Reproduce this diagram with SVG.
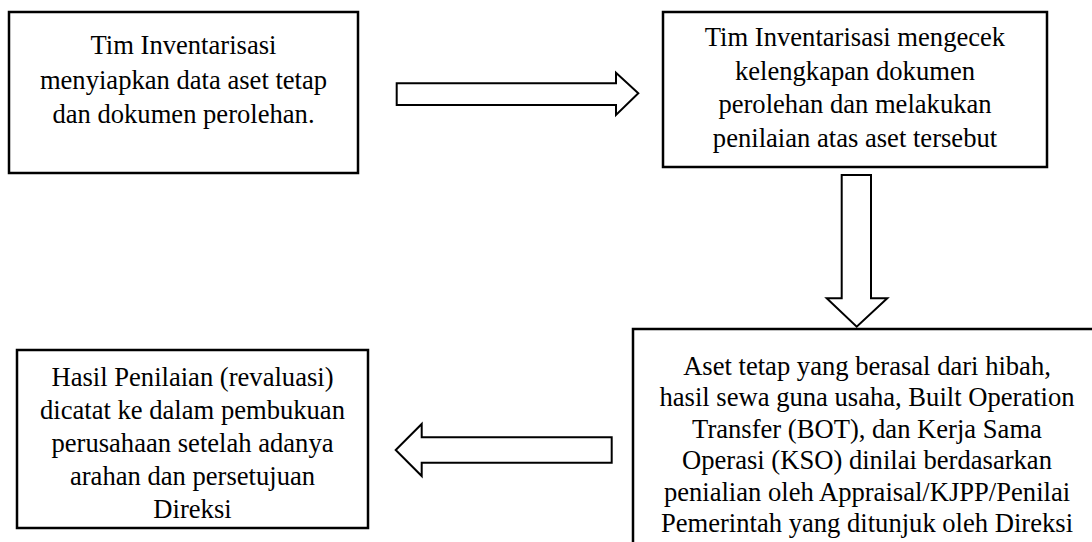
<svg xmlns="http://www.w3.org/2000/svg" width="1092" height="542" viewBox="0 0 1092 542">
  <style>
    .box { fill: #ffffff; stroke: #000000; stroke-width: 2.5; }
    .arrow { fill: #ffffff; stroke: #000000; stroke-width: 2; stroke-linejoin: miter; }
    .label { font-family: 'Liberation Serif', 'Times New Roman', serif; font-size: 26.6px; fill: #000000; text-anchor: middle; }
  </style>
  <rect width="1092" height="542" fill="#ffffff"/>

  <!-- block arrows between the steps -->
  <g id="connectors">
    <path class="arrow" d="M396.7,83.3 H616 V72.7 L638.3,93.3 L616,115 V105 H396.7 Z"/>
    <path class="arrow" d="M841.7,175 H871 V298.3 H887.3 L856.7,326.7 L826.7,298.3 H841.7 Z"/>
    <path class="arrow" d="M611.7,437.3 H421.7 V424 L395.7,450 L421.7,476 V462.7 H611.7 Z"/>
  </g>

  <g id="step-prepare">
    <rect class="box" x="9" y="12" width="349" height="161"/>
    <text class="label" x="183.5" y="54.3">Tim Inventarisasi</text>
    <text class="label" x="183.5" y="89">menyiapkan data aset tetap</text>
    <text class="label" x="183.5" y="123.3">dan dokumen perolehan.</text>
  </g>

  <g id="step-check">
    <rect class="box" x="663" y="12" width="384" height="155"/>
    <text class="label" x="855" y="45.7">Tim Inventarisasi mengecek</text>
    <text class="label" x="855" y="80">kelengkapan dokumen</text>
    <text class="label" x="855" y="113.3">perolehan dan melakukan</text>
    <text class="label" x="855" y="146.7">penilaian atas aset tersebut</text>
  </g>

  <g id="step-appraise">
    <rect class="box" x="633" y="329" width="468" height="230"/>
    <text class="label" x="867" y="375">Aset tetap yang berasal dari hibah,</text>
    <text class="label" x="867" y="406.4">hasil sewa guna usaha, Built Operation</text>
    <text class="label" x="867" y="437.8">Transfer (BOT), dan Kerja Sama</text>
    <text class="label" x="867" y="469.2">Operasi (KSO) dinilai berdasarkan</text>
    <text class="label" x="867" y="500.6">penialian oleh Appraisal/KJPP/Penilai</text>
    <text class="label" x="867" y="532">Pemerintah yang ditunjuk oleh Direksi</text>
  </g>

  <g id="step-record">
    <rect class="box" x="17" y="350" width="351" height="178"/>
    <text class="label" x="192.5" y="386">Hasil Penilaian (revaluasi)</text>
    <text class="label" x="192.5" y="419">dicatat ke dalam pembukuan</text>
    <text class="label" x="192.5" y="452">perusahaan setelah adanya</text>
    <text class="label" x="192.5" y="485">arahan dan persetujuan</text>
    <text class="label" x="192.5" y="518">Direksi</text>
  </g>
</svg>
